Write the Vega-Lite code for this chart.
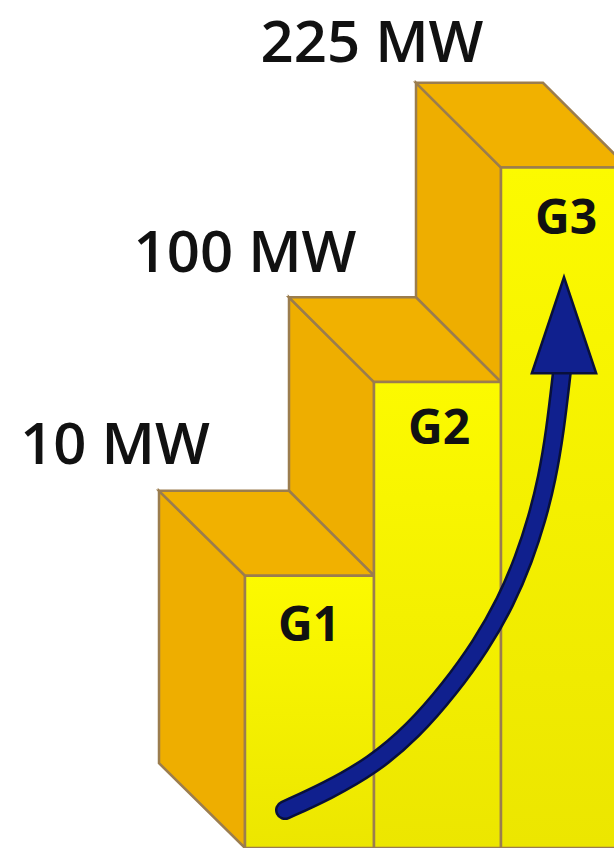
{
  "$schema": "https://vega.github.io/schema/vega-lite/v6.json",
  "width": 614,
  "height": 850,
  "autosize": {"type": "fit", "contains": "padding"},
  "padding": 0,
  "background": "white",
  "view": {"stroke": null},
  "config": {"axis": {"disable": true}},
  "datasets": {
    "fronts": [
      {"stage": "G1", "x0": 245, "x1": 374, "base": 0, "top": 273},
      {"stage": "G2", "x0": 374, "x1": 501, "base": 0, "top": 467},
      {"stage": "G3", "x0": 501, "x1": 618, "base": 0, "top": 682}
    ],
    "sides": [
      {"stage": "G1", "x": 159, "top": 358, "bottom": 85},
      {"stage": "G1", "x": 245, "top": 273, "bottom": 0},
      {"stage": "G2", "x": 289, "top": 552, "bottom": 358},
      {"stage": "G2", "x": 374, "top": 467, "bottom": 273},
      {"stage": "G3", "x": 416, "top": 767, "bottom": 552},
      {"stage": "G3", "x": 501, "top": 682, "bottom": 467}
    ],
    "tops": [
      {"stage": "G1", "y": 358, "left": 159, "right": 289},
      {"stage": "G1", "y": 273, "left": 245, "right": 374},
      {"stage": "G2", "y": 552, "left": 289, "right": 416},
      {"stage": "G2", "y": 467, "left": 374, "right": 501},
      {"stage": "G3", "y": 767, "left": 416, "right": 543},
      {"stage": "G3", "y": 682, "left": 501, "right": 628}
    ],
    "stageLabels": [
      {"label": "G1", "x": 309, "y": 207},
      {"label": "G2", "x": 439, "y": 405},
      {"label": "G3", "x": 566, "y": 615}
    ],
    "powerLabels": [
      {"label": "10 MW", "x": 115, "y": 385},
      {"label": "100 MW", "x": 245, "y": 577},
      {"label": "225 MW", "x": 372, "y": 788}
    ],
    "arrow": [
      {"i": 0, "x": 285, "y": 38},
      {"i": 1, "x": 327, "y": 57},
      {"i": 2, "x": 373, "y": 83},
      {"i": 3, "x": 413, "y": 117},
      {"i": 4, "x": 450, "y": 160},
      {"i": 5, "x": 481, "y": 203},
      {"i": 6, "x": 506, "y": 247},
      {"i": 7, "x": 524, "y": 290},
      {"i": 8, "x": 537, "y": 330},
      {"i": 9, "x": 547, "y": 370},
      {"i": 10, "x": 555, "y": 417},
      {"i": 11, "x": 562, "y": 478}
    ],
    "arrowHead": [
      {"x": 564, "y": 524}
    ]
  },
  "layer": [
    {
      "data": {"name": "sides"},
      "mark": {"type": "area", "orient": "vertical", "clip": true, "color": "#eeae00", "fillOpacity": 1, "stroke": "#9b7d4e", "strokeWidth": 2.5, "strokeJoin": "miter"},
      "encoding": {
        "x": {"field": "x", "type": "quantitative", "scale": {"domain": [0, 614], "nice": false, "zero": false}, "axis": null},
        "y": {"field": "top", "type": "quantitative", "scale": {"domain": [0, 850], "nice": false}, "axis": null},
        "y2": {"field": "bottom"},
        "detail": {"field": "stage", "type": "nominal"}
      }
    },
    {
      "data": {"name": "tops"},
      "mark": {"type": "area", "orient": "horizontal", "clip": true, "color": "#f1b100", "fillOpacity": 1, "stroke": "#9b7d4e", "strokeWidth": 2.5, "strokeJoin": "miter"},
      "encoding": {
        "y": {"field": "y", "type": "quantitative", "scale": {"domain": [0, 850], "nice": false}, "axis": null},
        "x": {"field": "left", "type": "quantitative", "scale": {"domain": [0, 614], "nice": false, "zero": false}, "axis": null},
        "x2": {"field": "right"},
        "detail": {"field": "stage", "type": "nominal"}
      }
    },
    {
      "data": {"name": "fronts"},
      "mark": {"type": "rect", "clip": true, "stroke": "#9b7d4e", "strokeWidth": 2.5,
        "fill": {"gradient": "linear", "x1": 0, "y1": 0, "x2": 0, "y2": 1, "stops": [{"offset": 0, "color": "#fcfa00"}, {"offset": 1, "color": "#ece600"}]}},
      "encoding": {
        "x": {"field": "x0", "type": "quantitative", "scale": {"domain": [0, 614], "nice": false, "zero": false}, "axis": null},
        "x2": {"field": "x1"},
        "y": {"field": "top", "type": "quantitative", "scale": {"domain": [0, 850], "nice": false}, "axis": null},
        "y2": {"field": "base"}
      }
    },
    {
      "data": {"name": "stageLabels"},
      "mark": {"type": "text", "font": "Open Sans", "fontSize": 48, "fontWeight": "bold", "color": "#111111", "align": "center", "baseline": "alphabetic"},
      "encoding": {
        "x": {"field": "x", "type": "quantitative", "scale": {"domain": [0, 614], "nice": false, "zero": false}, "axis": null},
        "y": {"field": "y", "type": "quantitative", "scale": {"domain": [0, 850], "nice": false}, "axis": null},
        "text": {"field": "label"}
      }
    },
    {
      "data": {"name": "powerLabels"},
      "mark": {"type": "text", "font": "Open Sans", "fontSize": 58, "fontWeight": 600, "color": "#111111", "align": "center", "baseline": "alphabetic"},
      "encoding": {
        "x": {"field": "x", "type": "quantitative", "scale": {"domain": [0, 614], "nice": false, "zero": false}, "axis": null},
        "y": {"field": "y", "type": "quantitative", "scale": {"domain": [0, 850], "nice": false}, "axis": null},
        "text": {"field": "label"}
      }
    },
    {
      "data": {"name": "arrow"},
      "mark": {"type": "line", "interpolate": "basis", "color": "#08103c", "strokeWidth": 20, "strokeCap": "round"},
      "encoding": {
        "x": {"field": "x", "type": "quantitative", "scale": {"domain": [0, 614], "nice": false, "zero": false}, "axis": null},
        "y": {"field": "y", "type": "quantitative", "scale": {"domain": [0, 850], "nice": false}, "axis": null},
        "order": {"field": "i", "type": "quantitative"}
      }
    },
    {
      "data": {"name": "arrow"},
      "mark": {"type": "line", "interpolate": "basis", "color": "#10208e", "strokeWidth": 15, "strokeCap": "round"},
      "encoding": {
        "x": {"field": "x", "type": "quantitative", "scale": {"domain": [0, 614], "nice": false, "zero": false}, "axis": null},
        "y": {"field": "y", "type": "quantitative", "scale": {"domain": [0, 850], "nice": false}, "axis": null},
        "order": {"field": "i", "type": "quantitative"}
      }
    },
    {
      "data": {"name": "arrowHead"},
      "mark": {"type": "point", "shape": "M0,-1L-0.67,1L0.67,1Z", "size": 9216, "filled": true, "color": "#10208e", "fillOpacity": 1, "stroke": "#08103c", "strokeWidth": 2.5, "opacity": 1},
      "encoding": {
        "x": {"field": "x", "type": "quantitative", "scale": {"domain": [0, 614], "nice": false, "zero": false}, "axis": null},
        "y": {"field": "y", "type": "quantitative", "scale": {"domain": [0, 850], "nice": false}, "axis": null}
      }
    }
  ]
}
